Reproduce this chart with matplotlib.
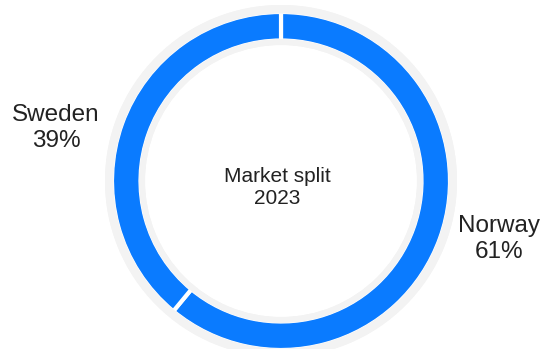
import matplotlib.pyplot as plt
from matplotlib.patches import Wedge

plt.rcParams['font.family'] = ['Liberation Sans', 'DejaVu Sans']

# data
countries = ['Norway', 'Sweden']
shares = [61, 39]
center_title = 'Market split\n2023'

blue = '#0a7bff'
grey = '#f3f3f3'

W, H = 544, 349
fig = plt.figure(figsize=(W / 100, H / 100), dpi=100)
ax = fig.add_axes([0, 0, 1, 1])

cx, cy = 281, H - 181
R, ring = 169, 28.5

# grey halo behind the ring
ax.add_patch(Wedge((cx, cy), R + 7, 0, 360, width=R + 7 - (R - ring - 4.5),
                   facecolor=grey, edgecolor='none', zorder=0))

wedges, _ = ax.pie(shares, center=(cx, cy), radius=R, startangle=90,
                   counterclock=False, colors=[blue, blue],
                   wedgeprops=dict(width=ring, edgecolor='white', linewidth=3))
for w in wedges:
    w.set_zorder(1)

# cover white edge strokes on the arcs with the halo
ax.add_patch(Wedge((cx, cy), R + 7, 0, 360, width=8.5,
                   facecolor=grey, edgecolor='none', zorder=2))
ax.add_patch(Wedge((cx, cy), R - ring + 1.5, 0, 360, width=6,
                   facecolor=grey, edgecolor='none', zorder=2))

# labels
ax.text(499, H - 239, f'{countries[0]}\n{shares[0]}%', ha='center', va='center',
        fontsize=17.5, color='#222222', linespacing=1.2)
ax.text(56, H - 128, f'{countries[1]}\n{shares[1]}%', ha='center', va='center',
        fontsize=17.5, color='#222222', linespacing=1.2)
ax.text(277, H - 187, center_title, ha='center', va='center',
        fontsize=15, color='#222222', linespacing=1.2)

ax.set_xlim(0, W)
ax.set_ylim(0, H)
ax.set_aspect('equal')
ax.axis('off')

fig.savefig('out.png', dpi=100)
